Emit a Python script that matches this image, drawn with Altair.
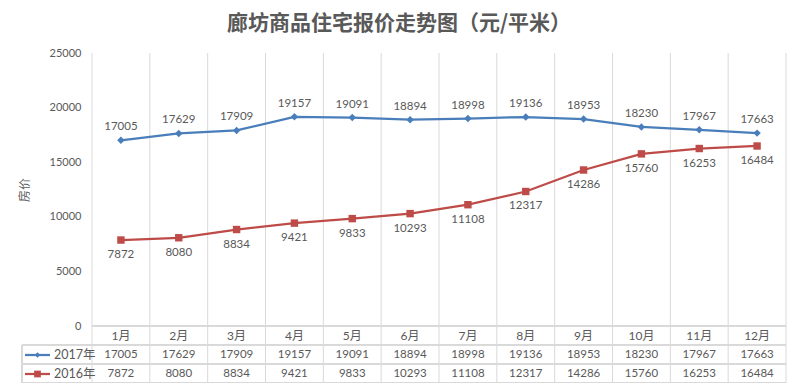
import altair as alt
import pandas as pd

months = ["1月", "2月", "3月", "4月", "5月", "6月", "7月", "8月", "9月", "10月", "11月", "12月"]
series_names = ["2017年", "2016年"]
v2017 = [17005, 17629, 17909, 19157, 19091, 18894, 18998, 19136, 18953, 18230, 17967, 17663]
v2016 = [7872, 8080, 8834, 9421, 9833, 10293, 11108, 12317, 14286, 15760, 16253, 16484]
y_ticks = [0, 5000, 10000, 15000, 20000, 25000]
title_text = "廊坊商品住宅报价走势图（元/平米）"
y_title = "房价"

rows = []
for m, a, b in zip(months, v2017, v2016):
    rows.append({"month": m, "series": "2017年", "value": a})
    rows.append({"month": m, "series": "2016年", "value": b})
df = pd.DataFrame(rows)
mdf = pd.DataFrame({"month": months})

W, H = 694, 273
GRID = "#d9d9d9"
TXT = "#595959"
BLUE = "#4a7ebb"
RED = "#be4b48"
NUMFONT = "Lato, 'Noto Sans CJK SC'"
CJK = "'Noto Sans CJK SC'"

xscale = alt.Scale(type="band", domain=months, paddingInner=0, paddingOuter=0)
yscale = alt.Scale(domain=[0, 25000])
color_scale = alt.Scale(domain=series_names, range=[BLUE, RED])
shape_scale = alt.Scale(domain=series_names, range=["diamond", "square"])


def X(**kw):
    return alt.X("month:N", scale=xscale, axis=None, **kw)


base = alt.Chart(df)

# vertical grid / table column borders
vgrid = alt.Chart(mdf).mark_rule(color=GRID, strokeWidth=1).encode(
    x=X(bandPosition=0), y=alt.value(0), y2=alt.value(330)
)
vlast = alt.Chart(mdf).transform_filter(alt.datum.month == months[-1]).mark_rule(
    color=GRID, strokeWidth=1
).encode(x=X(bandPosition=1), y=alt.value(0), y2=alt.value(330))

# horizontal table lines
hl0 = alt.Chart(mdf).mark_rule(color=GRID).encode(x=alt.value(0), x2=alt.value(W), y=alt.value(H))
hl1 = alt.Chart(mdf).mark_rule(color=GRID).encode(x=alt.value(-70), x2=alt.value(W), y=alt.value(292))
hl2 = alt.Chart(mdf).mark_rule(color=GRID).encode(x=alt.value(-70), x2=alt.value(W), y=alt.value(311))
hl3 = alt.Chart(mdf).mark_rule(color=GRID).encode(x=alt.value(-70), x2=alt.value(W), y=alt.value(330))
vl0 = alt.Chart(mdf).mark_rule(color=GRID).encode(x=alt.value(-70), y=alt.value(292), y2=alt.value(330))

# y axis (labels only)
yaxis_layer = alt.Chart(df).mark_point(opacity=0).encode(
    x=X(),
    y=alt.Y(
        "value:Q",
        scale=yscale,
        axis=alt.Axis(
            values=y_ticks, format="d", domain=False, ticks=False, grid=False, labelPadding=11,
            labelColor=TXT, labelFontSize=11, labelFont=NUMFONT, title=None,
        ),
    ),
)

lines = base.mark_line(strokeWidth=2.25).encode(
    x=X(),
    y=alt.Y("value:Q", scale=yscale),
    color=alt.Color("series:N", scale=color_scale, legend=None),
    detail="series:N",
)
points = base.mark_point(filled=True, opacity=1).encode(
    x=X(),
    y=alt.Y("value:Q", scale=yscale),
    color=alt.Color("series:N", scale=color_scale, legend=None),
    shape=alt.Shape("series:N", scale=shape_scale, legend=None),
    size=alt.SizeValue(55),
)

lab17 = base.transform_filter(alt.datum.series == "2017年").mark_text(
    dy=-13, fontSize=11.5, color=TXT, font=NUMFONT
).encode(x=X(), y=alt.Y("value:Q", scale=yscale), text="value:Q")
lab16 = base.transform_filter(alt.datum.series == "2016年").mark_text(
    dy=15, fontSize=11.5, color=TXT, font=NUMFONT
).encode(x=X(), y=alt.Y("value:Q", scale=yscale), text="value:Q")

# table text
tmonth = alt.Chart(mdf).mark_text(fontSize=12, color=TXT, font=NUMFONT).encode(
    x=X(), y=alt.value(283), text="month:N"
)
t17 = base.transform_filter(alt.datum.series == "2017年").mark_text(
    fontSize=11.5, color=TXT, font=NUMFONT
).encode(x=X(), y=alt.value(302), text="value:Q")
t16 = base.transform_filter(alt.datum.series == "2016年").mark_text(
    fontSize=11.5, color=TXT, font=NUMFONT
).encode(x=X(), y=alt.value(321), text="value:Q")

# legend cell
leg = pd.DataFrame({"series": series_names})
leg_line17 = alt.Chart(leg).transform_filter(alt.datum.series == "2017年").mark_rule(
    color=BLUE, strokeWidth=2.25
).encode(x=alt.value(-67), x2=alt.value(-42), y=alt.value(302))
leg_line16 = alt.Chart(leg).transform_filter(alt.datum.series == "2016年").mark_rule(
    color=RED, strokeWidth=2.25
).encode(x=alt.value(-67), x2=alt.value(-42), y=alt.value(321))
leg_pt17 = alt.Chart(leg).transform_filter(alt.datum.series == "2017年").mark_point(
    filled=True, opacity=1, shape="diamond", color=BLUE, size=30
).encode(x=alt.value(-54.5), y=alt.value(302))
leg_pt16 = alt.Chart(leg).transform_filter(alt.datum.series == "2016年").mark_point(
    filled=True, opacity=1, shape="square", color=RED, size=45
).encode(x=alt.value(-54.5), y=alt.value(321))
leg_t17 = alt.Chart(leg).transform_filter(alt.datum.series == "2017年").mark_text(
    fontSize=12.5, color=TXT, font=NUMFONT, align="left"
).encode(x=alt.value(-38), y=alt.value(302), text="series:N")
leg_t16 = alt.Chart(leg).transform_filter(alt.datum.series == "2016年").mark_text(
    fontSize=12.5, color=TXT, font=NUMFONT, align="left"
).encode(x=alt.value(-38), y=alt.value(321), text="series:N")

# title and y title
tdf = pd.DataFrame({"t": [title_text]})
title = alt.Chart(tdf).mark_text(
    fontSize=21, fontWeight="bold", color=TXT, font=CJK, baseline="middle"
).encode(x=alt.value(307), y=alt.value(-29), text="t:N")
ydf = pd.DataFrame({"t": [y_title]})
ytitle = alt.Chart(ydf).mark_text(
    fontSize=12, color=TXT, font=CJK, angle=270
).encode(x=alt.value(-67), y=alt.value(137), text="t:N")

chart = alt.layer(
    vgrid, vlast, hl0, hl1, hl2, hl3, vl0, yaxis_layer,
    lines, points, lab17, lab16, tmonth, t17, t16,
    leg_line17, leg_line16, leg_pt17, leg_pt16, leg_t17, leg_t16,
    title, ytitle,
).properties(
    width=W, height=H,
    autosize=alt.AutoSizeParams(type="none"),
    padding={"left": 84, "top": 45, "right": 6, "bottom": 57},
    background="white",
).configure_view(stroke=None)

chart.save("out.html", embed_options={"renderer": "svg", "actions": False})
